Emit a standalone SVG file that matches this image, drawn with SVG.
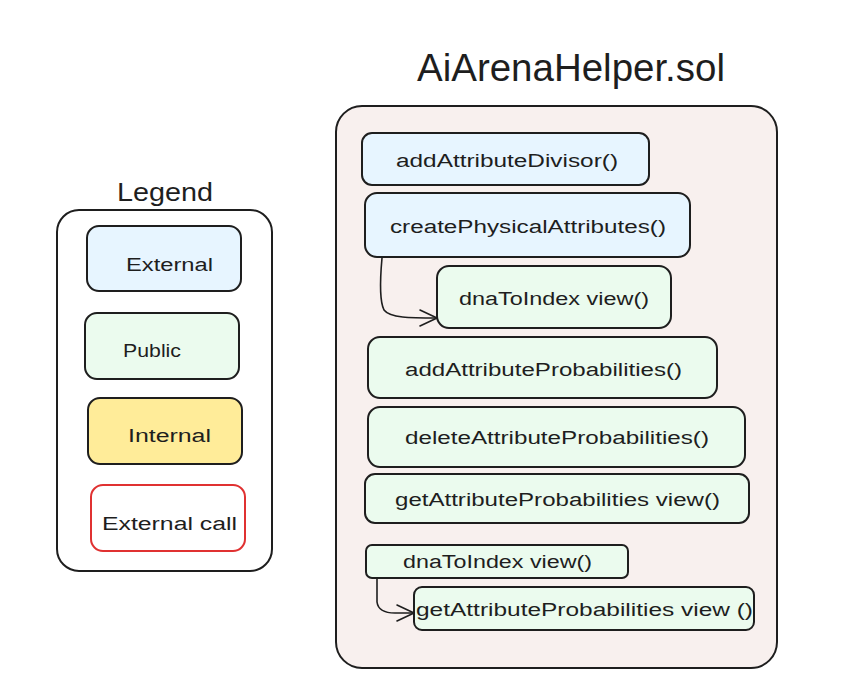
<svg xmlns="http://www.w3.org/2000/svg" width="861" height="695" viewBox="0 0 861 695">
<style>
.bg{fill:#ffffff}
.box{stroke:#1e1e1e;stroke-width:2;fill:#ffffff}
.ext{fill:#e7f5ff}
.pub{fill:#ebfbee}
.int{fill:#ffec99}
.call{stroke:#e03131}
.main{fill:#f8f0ee}
.t{font-family:"Liberation Sans","Open Sans",sans-serif;font-size:18px;fill:#1e1e1e;dominant-baseline:central}
.c{text-anchor:middle}
.title{font-family:"Liberation Sans","Open Sans",sans-serif;fill:#1e1e1e;text-anchor:middle;dominant-baseline:central}
.conn{fill:none;stroke:#1e1e1e;stroke-width:1.6;stroke-linecap:round;stroke-linejoin:round}
</style>
<defs>
<marker id="arr" viewBox="0 0 20 20" refX="19" refY="10" markerWidth="20" markerHeight="20" markerUnits="userSpaceOnUse" orient="auto">
<path d="M2,2 L19,10 L2,18" fill="none" stroke="#1e1e1e" stroke-width="1.6" stroke-linecap="round" stroke-linejoin="round"/>
</marker>
</defs>
<rect class="bg" x="0" y="0" width="861" height="695"/>

<g id="legend">
<text class="title" x="165" y="192" font-size="26" textLength="96" lengthAdjust="spacingAndGlyphs">Legend</text>
<rect class="box" x="57" y="210" width="215" height="361" rx="22"/>
</g>
<g id="legend-external">
<rect class="box ext" x="87" y="226" width="154" height="65" rx="12"/>
<text class="t" x="126" y="265" textLength="87" lengthAdjust="spacingAndGlyphs">External</text>
</g>
<g id="legend-public">
<rect class="box pub" x="85" y="313" width="154" height="66" rx="12"/>
<text class="t" x="123" y="351" textLength="58" lengthAdjust="spacingAndGlyphs">Public</text>
</g>
<g id="legend-internal">
<rect class="box int" x="88" y="398" width="154" height="66" rx="12"/>
<text class="t" x="128" y="436" textLength="83" lengthAdjust="spacingAndGlyphs">Internal</text>
</g>
<g id="legend-externalcall">
<rect class="box call" x="91" y="485" width="154" height="66" rx="12"/>
<text class="t" x="102" y="524" textLength="135" lengthAdjust="spacingAndGlyphs">External call</text>
</g>

<g id="contract">
<text class="title" x="571" y="68" font-size="38" textLength="308" lengthAdjust="spacingAndGlyphs">AiArenaHelper.sol</text>
<rect class="box main" x="336" y="106" width="441" height="562" rx="26"/>
</g>

<g id="addAttributeDivisor">
<rect class="box ext" x="362" y="133" width="287" height="52" rx="10"/>
<text class="t" x="396" y="161" textLength="222" lengthAdjust="spacingAndGlyphs">addAttributeDivisor()</text>
</g>
<g id="createPhysicalAttributes">
<rect class="box ext" x="365" y="193" width="325" height="64" rx="12"/>
<text class="t" x="390" y="227" textLength="276" lengthAdjust="spacingAndGlyphs">createPhysicalAttributes()</text>
</g>
<g id="dnaToIndex1">
<rect class="box pub" x="437" y="266" width="234" height="62" rx="12"/>
<text class="t" x="459" y="299" textLength="190" lengthAdjust="spacingAndGlyphs">dnaToIndex view()</text>
</g>
<g id="addAttributeProbabilities">
<rect class="box pub" x="368" y="337" width="349" height="61" rx="12"/>
<text class="t" x="405" y="370" textLength="277" lengthAdjust="spacingAndGlyphs">addAttributeProbabilities()</text>
</g>
<g id="deleteAttributeProbabilities">
<rect class="box pub" x="368" y="407" width="377" height="60" rx="12"/>
<text class="t" x="405" y="438" textLength="304" lengthAdjust="spacingAndGlyphs">deleteAttributeProbabilities()</text>
</g>
<g id="getAttributeProbabilities">
<rect class="box pub" x="365" y="474" width="384" height="49" rx="10"/>
<text class="t" x="395" y="500" textLength="325" lengthAdjust="spacingAndGlyphs">getAttributeProbabilities view()</text>
</g>
<g id="dnaToIndex2">
<rect class="box pub" x="366" y="545" width="262" height="33" rx="6"/>
<text class="t" x="403" y="562" textLength="189" lengthAdjust="spacingAndGlyphs">dnaToIndex view()</text>
</g>
<g id="getAttributeProbabilities2">
<rect class="box pub" x="414" y="587" width="340" height="43" rx="8"/>
<text class="t" x="416" y="610" textLength="337" lengthAdjust="spacingAndGlyphs">getAttributeProbabilities view ()</text>
</g>

<g id="connectors">
<path class="conn" d="M382,258 C380,280 379,300 384,310 C390,318 410,318 437,318" marker-end="url(#arr)"/>
<path class="conn" d="M377,578 L377,602 C378,610 384,613 395,613 L414,613" marker-end="url(#arr)"/>
</g>
</svg>
